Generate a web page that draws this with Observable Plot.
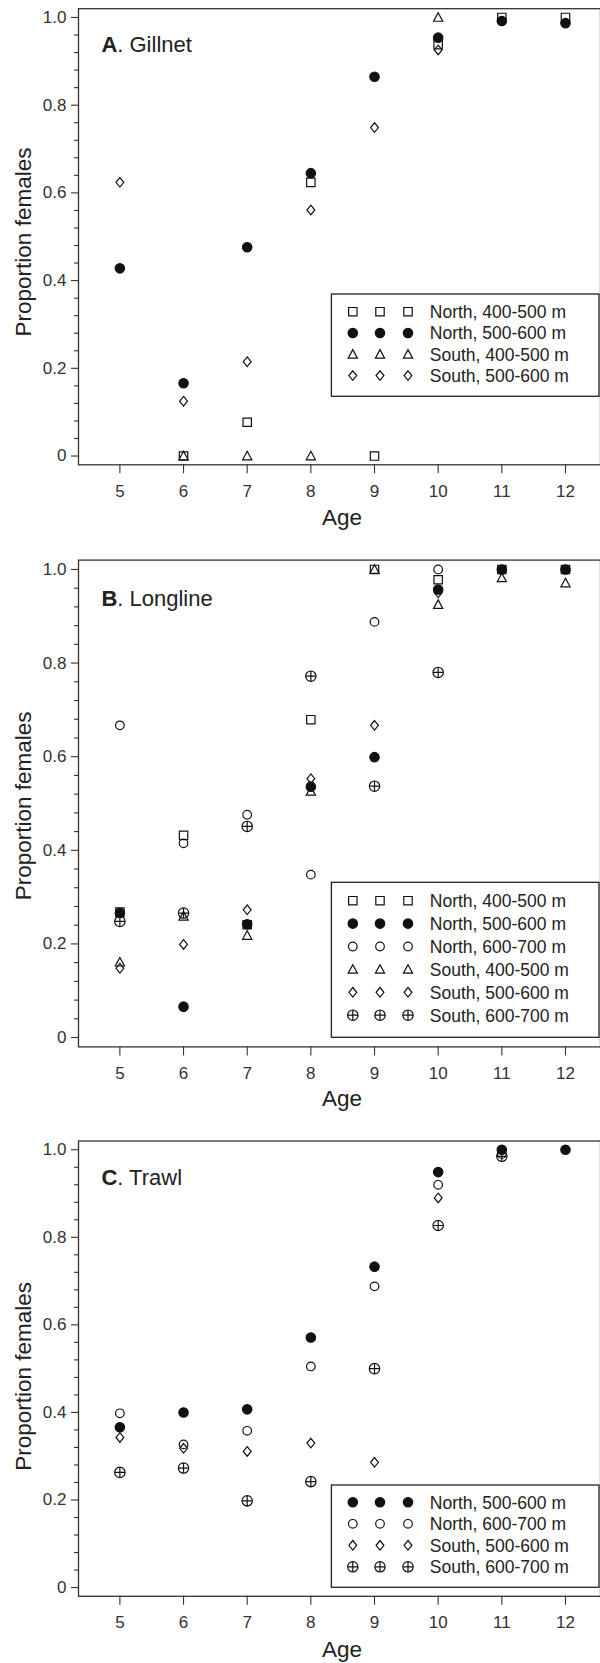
<!DOCTYPE html>
<html><head><meta charset="utf-8">
<script src="https://cdn.jsdelivr.net/npm/d3@7"></script>
<script src="https://cdn.jsdelivr.net/npm/@observablehq/plot@0.6"></script>
<style>
body{margin:0;background:#fff;}
#chart svg{display:block;}
</style></head><body><div id="chart"></div>
<script>
// ---- data ----
const ages = [5, 6, 7, 8, 9, 10, 11, 12];
const yTicks = [0, 0.2, 0.4, 0.6, 0.8, 1.0];
const yMinorTicks = [0.04, 0.08, 0.12, 0.16, 0.24, 0.28, 0.32, 0.36, 0.44, 0.48, 0.52, 0.56, 0.64, 0.68, 0.72, 0.76, 0.84, 0.88, 0.92, 0.96];
const seriesLabels = ["North, 400-500 m", "North, 500-600 m", "North, 600-700 m", "South, 400-500 m", "South, 500-600 m", "South, 600-700 m"];

// Gillnet
const gillnetN400 = [null, 0, 0.077, 0.624, 0, 0.938, 1.0, 1.0];
const gillnetN500 = [0.428, 0.166, 0.476, 0.645, 0.865, 0.954, 0.992, 0.987];
const gillnetS400 = [null, 0, 0, 0, null, 1.0, null, null];
const gillnetS500 = [0.624, 0.125, 0.215, 0.561, 0.749, 0.926, null, null];

// Longline
const longlineN400 = [0.268, 0.432, 0.241, 0.679, 1.0, 0.978, 1.0, 1.0];
const longlineN500 = [0.266, 0.066, 0.242, 0.536, 0.599, 0.957, 1.0, 1.0];
const longlineN600 = [0.667, 0.415, 0.476, 0.348, 0.888, 1.0, null, null];
const longlineS400 = [0.161, 0.259, 0.218, 0.526, 1.0, 0.925, 0.982, 0.971];
const longlineS500 = [0.148, 0.199, 0.273, 0.553, 0.667, 0.95, null, null];
const longlineS600 = [0.248, 0.266, 0.451, 0.772, 0.537, 0.780, null, null];

// Trawl
const trawlN500 = [0.366, 0.400, 0.407, 0.571, 0.733, 0.949, 1.0, 1.0];
const trawlN600 = [0.398, 0.327, 0.358, 0.505, 0.688, 0.920, 0.99, null];
const trawlS500 = [0.343, 0.318, 0.311, 0.330, 0.286, 0.890, null, null];
const trawlS600 = [0.263, 0.273, 0.198, 0.242, 0.500, 0.827, 0.985, null];

// ---- symbols ----
const TAU = 2 * Math.PI;
const symSquare = {draw(c) {const h = 4.2; c.moveTo(-h, -h); c.lineTo(h, -h); c.lineTo(h, h); c.lineTo(-h, h); c.closePath();}};
const symDisc = {draw(c) {const r = 4.7; c.moveTo(r, 0); c.arc(0, 0, r, 0, TAU); c.closePath();}};
const symRing = {draw(c) {const r = 4.3; c.moveTo(r, 0); c.arc(0, 0, r, 0, TAU); c.closePath();}};
const symTriangle = {draw(c) {c.moveTo(0, -4.7); c.lineTo(4.6, 3.8); c.lineTo(-4.6, 3.8); c.closePath();}};
const symDiamond = {draw(c) {c.moveTo(0, -4.8); c.lineTo(3.9, 0); c.lineTo(0, 4.8); c.lineTo(-3.9, 0); c.closePath();}};
const symCirclePlus = {draw(c) {const r = 5.2; c.moveTo(r, 0); c.arc(0, 0, r, 0, TAU); c.closePath(); c.moveTo(-r, 0); c.lineTo(r, 0); c.moveTo(0, -r); c.lineTo(0, r);}};

const styleOf = [
  {sym: symSquare, fill: "none"},
  {sym: symDisc, fill: "#111"},
  {sym: symRing, fill: "none"},
  {sym: symTriangle, fill: "none"},
  {sym: symDiamond, fill: "none"},
  {sym: symCirclePlus, fill: "none"}
];

const FONT = "'Liberation Sans', Arial, Helvetica, sans-serif";
const INK = "#111";

function rows(vals) {
  return ages.map((a, i) => ({age: a, p: vals[i]})).filter(d => d.p != null);
}

function panel(cfg) {
  const marks = [
    Plot.frame({stroke: "#333", strokeWidth: 1.3}),
    Plot.axisY(yMinorTicks, {tickSize: 4, tickFormat: () => "", label: null, strokeWidth: 1.1}),
    Plot.axisY(yTicks, {tickSize: 7, tickPadding: 5, tickFormat: d => d === 0 ? "0" : d.toFixed(1), label: null, fontSize: 17, strokeWidth: 1.1}),
    Plot.axisX(ages, {tickSize: 9, tickPadding: 11, tickFormat: d => String(d), label: null, fontSize: 17, strokeWidth: 1.1})
  ];
  cfg.series.forEach(s => {
    const st = styleOf[s.kind];
    marks.push(Plot.dot(rows(s.values), {x: "age", y: "p", symbol: st.sym, r: 4.5, fill: st.fill, stroke: INK, strokeWidth: 1.2}));
  });
  const el = Plot.plot({
    width: 600,
    height: cfg.height,
    marginLeft: 78,
    marginRight: 0,
    marginTop: cfg.marginTop,
    marginBottom: cfg.marginBottom,
    x: {domain: [4.35, 12.55], label: null},
    y: {domain: [-0.02, 1.02], label: null},
    style: {fontFamily: FONT, fontSize: "17px", color: "#333", background: "white", overflow: "visible"},
    marks
  });
  const svg = d3.select(el);
  // panel title
  const t = svg.append("text").attr("x", 101.4).attr("y", cfg.titleY).attr("text-anchor", "start").attr("font-size", 22).attr("fill", "#222");
  t.append("tspan").attr("font-weight", "bold").text(cfg.letter);
  t.append("tspan").text(". " + cfg.name);
  // axis titles
  svg.append("text").attr("x", 342).attr("y", cfg.xLabelY).attr("text-anchor", "middle").attr("font-size", 22.5).attr("fill", "#222").text("Age");
  svg.append("text").attr("transform", `translate(31,${cfg.yLabelC}) rotate(-90)`).attr("text-anchor", "middle").attr("font-size", 22.5).attr("fill", "#222").text("Proportion females");
  // legend
  const lg = cfg.legend;
  svg.append("rect").attr("x", 331.4).attr("y", lg.top).attr("width", 599 - 331.4).attr("height", lg.bottom - lg.top)
    .attr("fill", "white").attr("stroke", "#222").attr("stroke-width", 1.3);
  cfg.series.forEach((s, i) => {
    const st = styleOf[s.kind];
    const y = lg.row0 + i * lg.dy;
    [352.8, 380, 408].forEach(x => {
      svg.append("path").attr("d", d3.symbol(st.sym, 64)()).attr("transform", `translate(${x},${y})`)
        .attr("fill", st.fill).attr("stroke", INK).attr("stroke-width", 1.2);
    });
    svg.append("text").attr("x", 429.8).attr("y", y).attr("dy", "0.36em").attr("text-anchor", "start").attr("font-size", 17.5).attr("fill", "#222").text(seriesLabels[s.kind]);
  });
  document.getElementById("chart").appendChild(el);
}

panel({
  letter: "A", name: "Gillnet", height: 540, marginTop: 8.2, marginBottom: 540 - 464.3,
  titleY: 52.3, xLabelY: 525, yLabelC: 242,
  legend: {top: 294, bottom: 396.3, row0: 311.7, dy: 21.3},
  series: [
    {kind: 0, values: gillnetN400},
    {kind: 1, values: gillnetN500},
    {kind: 3, values: gillnetS400},
    {kind: 4, values: gillnetS500}
  ]
});
panel({
  letter: "B", name: "Longline", height: 580, marginTop: 19.6, marginBottom: 580 - 506.4,
  titleY: 65.7, xLabelY: 566, yLabelC: 265.8,
  legend: {top: 342.3, bottom: 497.3, row0: 360.7, dy: 22.9},
  series: [
    {kind: 0, values: longlineN400},
    {kind: 1, values: longlineN500},
    {kind: 2, values: longlineN600},
    {kind: 3, values: longlineS400},
    {kind: 4, values: longlineS500},
    {kind: 5, values: longlineS600}
  ]
});
panel({
  letter: "C", name: "Trawl", height: 543, marginTop: 20.5, marginBottom: 543 - 475.8,
  titleY: 65, xLabelY: 536.7, yLabelC: 256.3,
  legend: {top: 365, bottom: 467.3, row0: 382.3, dy: 21.5},
  series: [
    {kind: 1, values: trawlN500},
    {kind: 2, values: trawlN600},
    {kind: 4, values: trawlS500},
    {kind: 5, values: trawlS600}
  ]
});
</script></body></html>
